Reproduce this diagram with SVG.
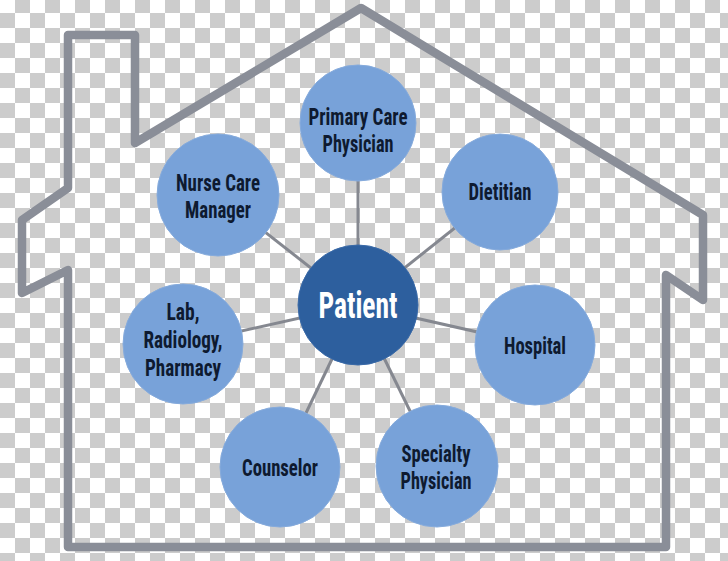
<svg xmlns="http://www.w3.org/2000/svg" width="728" height="561" viewBox="0 0 728 561">
<defs>
<pattern id="checker" patternUnits="userSpaceOnUse" x="0" y="-2" width="30" height="30">
<rect width="30" height="30" fill="#ffffff"/>
<rect x="15" y="0" width="15" height="15" fill="#cccccc"/>
<rect x="0" y="15" width="15" height="15" fill="#cccccc"/>
</pattern>
<style>
.house{fill:none;stroke:#8a8e98;stroke-width:8.5;stroke-linejoin:round;stroke-linecap:round}
.conn{stroke:#858890;stroke-width:3;fill:none}
.node circle{fill:#78a2d9;stroke:#86abdc;stroke-width:1}
.node text{font-family:"Roboto Condensed","DejaVu Sans Condensed","Liberation Sans Narrow",Roboto,sans-serif;font-weight:bold;font-size:24px;fill:#0e1a30;text-anchor:middle}
#patient circle{fill:#2d5f9e;stroke:#3a6aa8}
#patient text{fill:#ffffff;font-size:36px}
</style>
</defs>
<rect x="0" y="0" width="728" height="561" fill="url(#checker)"/>
<path class="house" d="M68,188 L68,35 L135,35 L135,143 L361,8 L703,215 L703,300 L666,275 L666,547 L68,547 L68,270 L22,293 L22,220 Z"/>
<g id="connectors">
<line class="conn" x1="358" y1="305" x2="358" y2="122"/>
<line class="conn" x1="358" y1="305" x2="218" y2="195"/>
<line class="conn" x1="358" y1="305" x2="500" y2="192"/>
<line class="conn" x1="358" y1="305" x2="183" y2="344"/>
<line class="conn" x1="358" y1="305" x2="535" y2="345"/>
<line class="conn" x1="358" y1="305" x2="280" y2="467"/>
<line class="conn" x1="358" y1="305" x2="437" y2="466"/>
</g>
<g id="primary-care" class="node">
<circle cx="358" cy="123" r="58"/>
<text x="358" y="125" textLength="99" lengthAdjust="spacingAndGlyphs">Primary Care</text>
<text x="358" y="152" textLength="71" lengthAdjust="spacingAndGlyphs">Physician</text>
</g>
<g id="nurse-care" class="node">
<circle cx="218" cy="195" r="61"/>
<text x="218" y="191" textLength="84" lengthAdjust="spacingAndGlyphs">Nurse Care</text>
<text x="218" y="218" textLength="66" lengthAdjust="spacingAndGlyphs">Manager</text>
</g>
<g id="dietitian" class="node">
<circle cx="500" cy="192" r="58"/>
<text x="500" y="200" textLength="63" lengthAdjust="spacingAndGlyphs">Dietitian</text>
</g>
<g id="patient" class="node">
<circle cx="358" cy="305" r="60"/>
<text x="358" y="318" textLength="79" lengthAdjust="spacingAndGlyphs">Patient</text>
</g>
<g id="lab" class="node">
<circle cx="183" cy="344" r="60"/>
<text x="183" y="320" textLength="33" lengthAdjust="spacingAndGlyphs">Lab,</text>
<text x="183" y="348" textLength="79" lengthAdjust="spacingAndGlyphs">Radiology,</text>
<text x="183" y="376" textLength="76" lengthAdjust="spacingAndGlyphs">Pharmacy</text>
</g>
<g id="hospital" class="node">
<circle cx="535" cy="345" r="60"/>
<text x="535" y="354" textLength="62" lengthAdjust="spacingAndGlyphs">Hospital</text>
</g>
<g id="counselor" class="node">
<circle cx="280" cy="467" r="60"/>
<text x="280" y="476" textLength="76" lengthAdjust="spacingAndGlyphs">Counselor</text>
</g>
<g id="specialty" class="node">
<circle cx="437" cy="466" r="61"/>
<text x="436" y="462" textLength="69" lengthAdjust="spacingAndGlyphs">Specialty</text>
<text x="436" y="489" textLength="71" lengthAdjust="spacingAndGlyphs">Physician</text>
</g>
</svg>
